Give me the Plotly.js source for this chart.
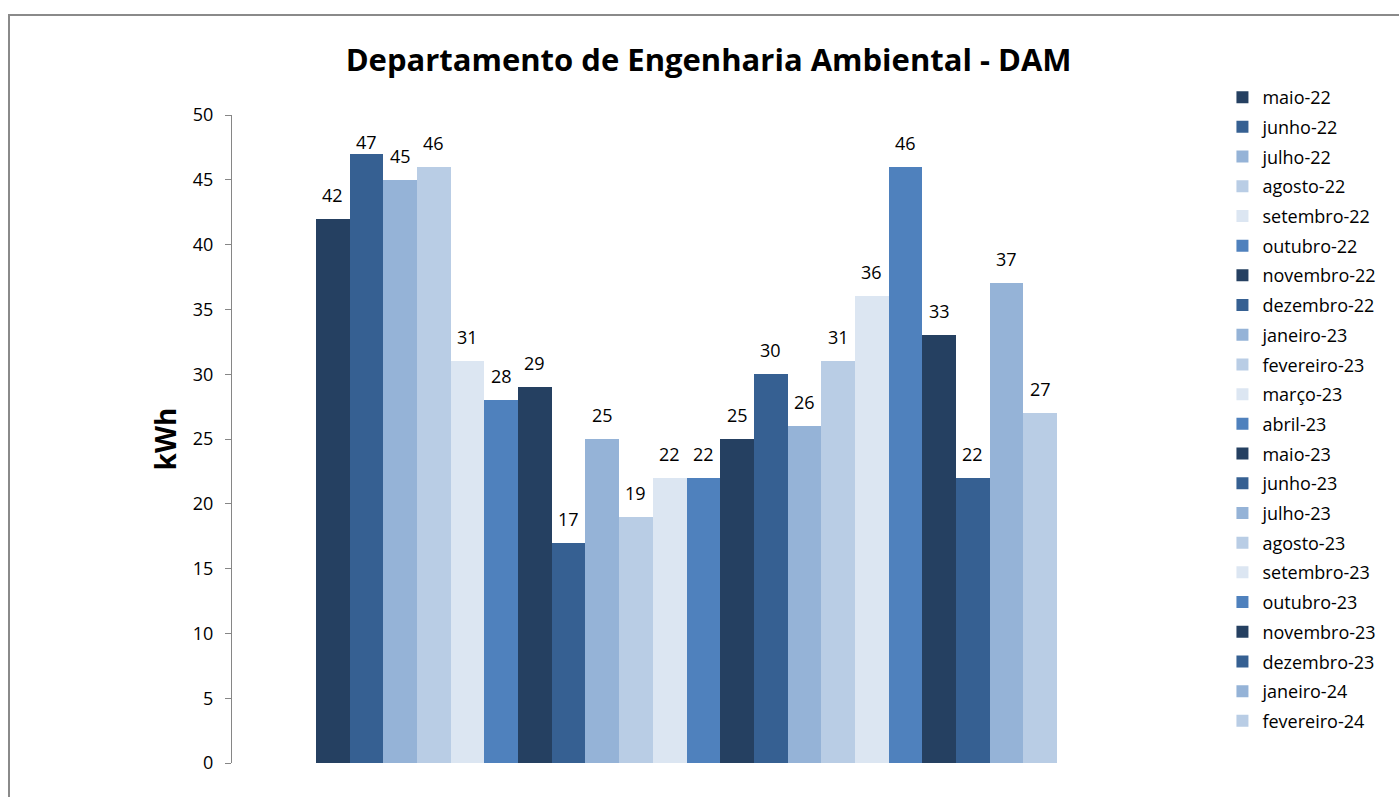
<!DOCTYPE html>
<html>
<head>
<meta charset="utf-8">
<script src="https://cdn.plot.ly/plotly-3.0.1.min.js"></script>
<style>
  html, body { margin: 0; padding: 0; background: #fff; overflow: hidden; }
  #chart { position: absolute; left: 0; top: 0; width: 1399px; height: 797px; }
  #frame { position: absolute; left: 8px; top: 14px; width: 1400px; height: 800px;
           border-left: 2px solid #8a8a8a; border-top: 2px solid #8a8a8a; pointer-events: none; }
</style>
</head>
<body>
<div id="chart"></div>
<div id="frame"></div>
<script>
const months = ["maio-22","junho-22","julho-22","agosto-22","setembro-22","outubro-22",
  "novembro-22","dezembro-22","janeiro-23","fevereiro-23","março-23","abril-23",
  "maio-23","junho-23","julho-23","agosto-23","setembro-23","outubro-23",
  "novembro-23","dezembro-23","janeiro-24","fevereiro-24"];
const values = [42,47,45,46,31,28,29,17,25,19,22,22,25,30,26,31,36,46,33,22,37,27];
const palette = ["#254061","#366092","#95B3D7","#B9CDE5","#DCE6F2","#4F81BD"];

const FONT = "Open Sans, sans-serif";
const Y_MAX = 50;
const PLOT_H = 797 - 115 - 34;
const PX_PER_UNIT = PLOT_H / Y_MAX;

const traces = months.map((m, i) => ({
  type: "bar",
  name: m,
  x: [m],
  y: [values[i]],
  legendgroup: "g" + i,
  marker: { color: palette[i % palette.length], line: { width: 0 } },
  hoverinfo: "name+y"
}));

// labels sit above the bar, but are kept inside the top of the plot area (as Excel does)
const annotations = months.map((m, i) => ({
  x: m, y: values[i], xref: "x", yref: "y",
  text: String(values[i]),
  showarrow: false, yanchor: "bottom",
  yshift: Math.min(10, (Y_MAX - values[i]) * PX_PER_UNIT - 41),
  font: { family: FONT, size: 18, color: "#000" }
}));

const layout = {
  width: 1399, height: 797,
  margin: { l: 232, r: 258, t: 115, b: 34 },
  paper_bgcolor: "#fff", plot_bgcolor: "#fff",
  barmode: "overlay", bargap: 0,
  title: {
    text: "<b>Departamento de Engenharia Ambiental - DAM</b>",
    font: { family: FONT, size: 31, color: "#000" },
    x: 0.5065, xref: "container", xanchor: "center",
    y: 0.925, yref: "container", yanchor: "middle"
  },
  xaxis: {
    type: "category",
    range: [-2.994, 23.994],
    showticklabels: false, showline: false, showgrid: false, zeroline: false, ticks: ""
  },
  yaxis: {
    range: [0, Y_MAX], dtick: 5, tick0: 0,
    showgrid: false, zeroline: false,
    showline: true, linecolor: "#868686", linewidth: 1,
    ticks: "outside", ticklen: 6, tickcolor: "#868686", tickwidth: 1,
    ticklabelstandoff: 8,
    tickfont: { family: FONT, size: 18, color: "#000" },
    title: { text: "<b>kWh</b>", font: { family: FONT, size: 28, color: "#000" }, standoff: 8 }
  },
  showlegend: true,
  legend: {
    x: 1.0896, xanchor: "left", y: 1.0556, yanchor: "top",
    traceorder: "grouped", tracegroupgap: 3.3,
    itemwidth: 30, maxheight: 780,
    font: { family: FONT, size: 18, color: "#000" },
    bgcolor: "rgba(0,0,0,0)"
  },
  annotations: annotations
};

Plotly.newPlot("chart", traces, layout, { displayModeBar: false, staticPlot: true });
</script>
</body>
</html>
